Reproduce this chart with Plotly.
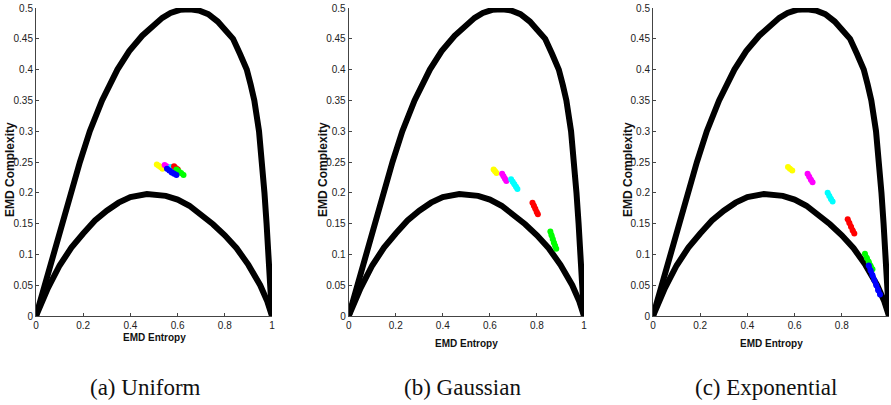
import plotly.graph_objects as go

W, H = 891, 405

# ---- data ----
x_tick_vals = [0, 0.2, 0.4, 0.6, 0.8, 1]
x_tick_text = ["0", "0.2", "0.4", "0.6", "0.8", "1"]
y_tick_vals = [0, 0.05, 0.1, 0.15, 0.2, 0.25, 0.3, 0.35, 0.4, 0.45, 0.5]
y_tick_text = ["0", "0.05", "0.1", "0.15", "0.2", "0.25", "0.3", "0.35", "0.4", "0.45", "0.5"]

upper_x = [0, 0.037, 0.074, 0.11, 0.146, 0.186, 0.228, 0.28, 0.345, 0.395, 0.45, 0.495, 0.535, 0.57,
           0.61, 0.653, 0.69, 0.73, 0.77, 0.80, 0.835, 0.865, 0.893, 0.91, 0.925, 0.945, 0.958,
           0.968, 0.977, 0.984, 0.99, 0.995, 1]
upper_y = [0, 0.05, 0.1, 0.15, 0.2, 0.25, 0.3, 0.35, 0.4, 0.43, 0.455, 0.472, 0.484, 0.492,
           0.497, 0.498, 0.496, 0.49, 0.478, 0.465, 0.45, 0.425, 0.4, 0.375, 0.35, 0.3, 0.25,
           0.2, 0.15, 0.1, 0.06, 0.03, 0]

lower_x = [0, 0.025, 0.05, 0.1, 0.15, 0.2, 0.25, 0.3, 0.35, 0.4, 0.47, 0.55, 0.6, 0.65, 0.7,
           0.75, 0.8, 0.85, 0.9, 0.95, 0.98, 1]
lower_y = [0, 0.024, 0.045, 0.082, 0.111, 0.134, 0.155, 0.171, 0.184, 0.193, 0.198, 0.195,
           0.189, 0.179, 0.165, 0.149, 0.131, 0.11, 0.083, 0.05, 0.024, 0]

series_names = ["yellow", "magenta", "cyan", "red", "green", "blue"]
series_colors = ["#ffff00", "#ff00ff", "#00ffff", "#ff0000", "#00ff00", "#0000ff"]

uniform_x = {
    "yellow": [0.512, 0.52, 0.528, 0.536],
    "magenta": [0.545, 0.553, 0.561, 0.569],
    "cyan": [0.572, 0.58, 0.588],
    "red": [0.585, 0.593, 0.601],
    "green": [0.595, 0.605, 0.615, 0.625],
    "blue": [0.555, 0.565, 0.575, 0.585, 0.595],
}
uniform_y = {
    "yellow": [0.246, 0.244, 0.242, 0.239],
    "magenta": [0.245, 0.243, 0.241, 0.239],
    "cyan": [0.242, 0.240, 0.238],
    "red": [0.243, 0.240, 0.238],
    "green": [0.238, 0.235, 0.232, 0.229],
    "blue": [0.239, 0.236, 0.233, 0.231, 0.229],
}
gaussian_x = {
    "yellow": [0.616, 0.622, 0.628],
    "magenta": [0.652, 0.658, 0.664, 0.670],
    "cyan": [0.690, 0.697, 0.704, 0.711, 0.717],
    "red": [0.781, 0.787, 0.793, 0.799, 0.804],
    "green": [0.857, 0.862, 0.867, 0.872, 0.877, 0.882],
    "blue": [],
}
gaussian_y = {
    "yellow": [0.238, 0.235, 0.232],
    "magenta": [0.231, 0.227, 0.223, 0.219],
    "cyan": [0.222, 0.218, 0.214, 0.210, 0.206],
    "red": [0.184, 0.179, 0.174, 0.169, 0.165],
    "green": [0.137, 0.131, 0.125, 0.119, 0.114, 0.109],
    "blue": [],
}
exponential_x = {
    "yellow": [0.572, 0.580, 0.590],
    "magenta": [0.655, 0.662, 0.669, 0.676],
    "cyan": [0.740, 0.747, 0.754, 0.761],
    "red": [0.825, 0.832, 0.839, 0.846, 0.853],
    "green": [0.898, 0.906, 0.914, 0.922, 0.930],
    "blue": [0.914, 0.922, 0.930, 0.938, 0.946, 0.954, 0.962],
}
exponential_y = {
    "yellow": [0.242, 0.239, 0.236],
    "magenta": [0.231, 0.226, 0.221, 0.217],
    "cyan": [0.200, 0.195, 0.190, 0.186],
    "red": [0.157, 0.151, 0.145, 0.139, 0.134],
    "green": [0.101, 0.094, 0.088, 0.081, 0.076],
    "blue": [0.082, 0.074, 0.066, 0.058, 0.050, 0.042, 0.035],
}

captions = ["(a) Uniform", "(b) Gaussian", "(c) Exponential"]
panels = [(uniform_x, uniform_y), (gaussian_x, gaussian_y), (exponential_x, exponential_y)]

# ---- layout geometry (pixels) ----
x_doms_px = [(36, 272), (348.7, 584), (653, 889)]
y_dom_px = (8, 316)
caption_cx = [145, 462, 766]
ytitle_x = [10, 323, 628]
xtitle_y = [337, 343, 343]

fig = go.Figure()

for i, (px, py) in enumerate(panels):
    sfx = "" if i == 0 else str(i + 1)
    xa, ya = "x" + sfx, "y" + sfx
    for cx, cy in [(upper_x, upper_y), (lower_x, lower_y)]:
        fig.add_trace(go.Scatter(x=cx, y=cy, mode="lines", xaxis=xa, yaxis=ya,
                                 line=dict(color="black", width=6),
                                 showlegend=False, hoverinfo="skip"))
    for name, col in zip(series_names, series_colors):
        if not px[name]:
            continue
        fig.add_trace(go.Scatter(x=px[name], y=py[name], mode="lines+markers", xaxis=xa, yaxis=ya,
                                 line=dict(color=col, width=5),
                                 marker=dict(color=col, size=6, line=dict(width=0)),
                                 showlegend=False, cliponaxis=False))

axis_font = dict(family="Liberation Sans Narrow, Liberation Sans, Arial", size=10, color="#222")
layout = dict(width=W, height=H, margin=dict(l=0, r=0, t=0, b=0, autoexpand=False),
              paper_bgcolor="white", plot_bgcolor="white", showlegend=False)
annotations = []
for i in range(3):
    sfx = "" if i == 0 else str(i + 1)
    x0, x1 = x_doms_px[i]
    layout["xaxis" + sfx] = dict(domain=[x0 / W, x1 / W], range=[0, 1], anchor="y" + sfx,
                                 tickvals=x_tick_vals, ticktext=x_tick_text,
                                 ticks="inside", ticklen=3, tickcolor="#444",
                                 showline=True, linecolor="#444", linewidth=1,
                                 showgrid=False, zeroline=False, tickfont=axis_font,
                                 automargin=False)
    layout["yaxis" + sfx] = dict(domain=[1 - y_dom_px[1] / H, 1 - y_dom_px[0] / H], range=[0, 0.5],
                                 anchor="x" + sfx,
                                 tickvals=y_tick_vals, ticktext=y_tick_text,
                                 ticks="inside", ticklen=3, tickcolor="#444",
                                 showline=True, linecolor="#444", linewidth=1,
                                 showgrid=False, zeroline=False, tickfont=axis_font,
                                 automargin=False)
    annotations.append(dict(text="<b>EMD Complexity</b>", x=ytitle_x[i] / W, y=1 - 170 / H,
                            xref="paper", yref="paper", showarrow=False, textangle=-90,
                            xanchor="center", yanchor="middle",
                            font=dict(family="Liberation Sans, Arial", size=12, color="#111")))
    annotations.append(dict(text="<b>EMD Entropy</b>", x=(x0 + x1) / 2 / W, y=1 - xtitle_y[i] / H,
                            xref="paper", yref="paper", showarrow=False,
                            xanchor="center", yanchor="middle",
                            font=dict(family="Liberation Sans Narrow, Liberation Sans, Arial",
                                      size=10, color="#111")))
    annotations.append(dict(text=captions[i], x=caption_cx[i] / W, y=1 - 387 / H,
                            xref="paper", yref="paper", showarrow=False,
                            xanchor="center", yanchor="middle",
                            font=dict(family="Liberation Serif, DejaVu Serif, serif", size=23,
                                      color="#111")))
layout["annotations"] = annotations
fig.update_layout(**layout)

fig.write_html("out.html", config={"displayModeBar": False},
               post_script="document.body.style.margin='0';document.body.style.overflow='hidden';")
